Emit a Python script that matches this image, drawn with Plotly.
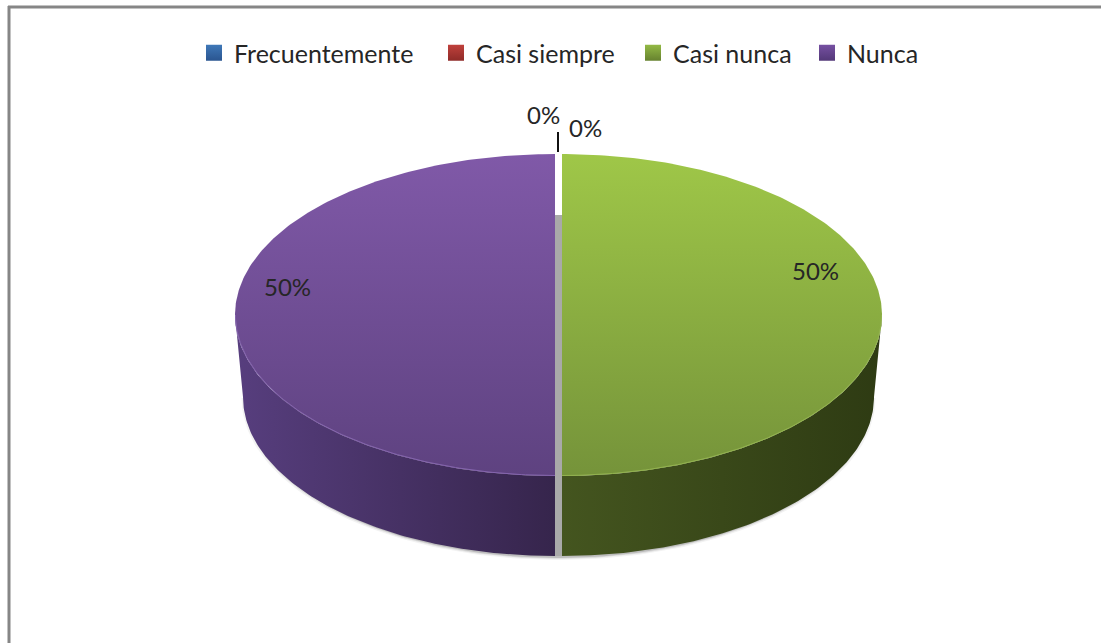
import numpy as np
import plotly.graph_objects as go

categories = ["Frecuentemente", "Casi siempre", "Casi nunca", "Nunca"]
values = [0, 0, 50, 50]
draw_order = [2, 3, 0, 1]  # clockwise from 12 o'clock
top_colors = {"Casi nunca": ("#9fc748", "#75933a"), "Nunca": ("#8059a8", "#5e4280")}
rim_colors = {"Casi nunca": "#93b34f", "Nunca": "#8565ae"}
side_colors = {"Casi nunca": ("#44551f", "#2e3b13"), "Nunca": ("#573e7e", "#36254c")}
legend_colors = ["#3f78b8", "#c0413c", "#93b945", "#7650a2"]
legend_dark = ["#2a5590", "#8f2b28", "#66822f", "#533878"]
legend_text_x = [234, 476, 673, 847]
labels_pos = {"Frecuentemente": (543, 114), "Casi siempre": (585, 127), "Casi nunca": (815, 270), "Nunca": (287, 286)}

W, H = 1101, 643
CX, CY, RX, RY = 558.5, 315, 320, 161
BCY, BRX, BRY = 397, 312, 159
EXPLODE = 3.5
FONT = "Lato"
TEXT = "#262626"
LEGEND_TEXT_OFFSET = 42

fig = go.Figure()
total = sum(values)

# soft shadow under the pie
for grow, alpha in [(5, 0.05), (3, 0.09), (1.5, 0.14)]:
    t = np.linspace(np.pi / 2, 3 * np.pi / 2, 120)
    fig.add_trace(go.Scatter(
        x=np.r_[CX + (BRX + grow) * np.sin(t), CX],
        y=np.r_[BCY + 1 + (BRY + grow * 0.6) * -np.cos(t), BCY],
        mode="lines", line=dict(width=0), fill="toself",
        fillcolor=f"rgba(0,0,0,{alpha})", hoverinfo="skip", showlegend=False))

start = 0.0
geom = []
for i in draw_order:
    frac = values[i] / total
    a0, a1 = start * 2 * np.pi, (start + frac) * 2 * np.pi
    start += frac
    if values[i] == 0:
        continue
    mid = (a0 + a1) / 2
    dx = EXPLODE * np.sign(np.sin(mid))
    geom.append((categories[i], a0, a1, dx))

# side walls
for name, a0, a1, dx in geom:
    lo, hi = max(a0, np.pi / 2), min(a1, 3 * np.pi / 2)
    t = np.linspace(lo, hi, 120)
    xs = np.r_[CX + dx + RX * np.sin(t), (CX + dx + BRX * np.sin(t))[::-1]]
    ys = np.r_[CY - RY * np.cos(t), (BCY - BRY * np.cos(t))[::-1]]
    c0, c1 = side_colors[name]
    fig.add_trace(go.Scatter(
        x=xs, y=ys, mode="lines", line=dict(width=0), fill="toself",
        fillgradient=dict(type="horizontal", colorscale=[[0, c0], [1, c1]]),
        hoverinfo="skip", showlegend=False))

# tops
for name, a0, a1, dx in geom:
    t = np.linspace(a0, a1, 240)
    xs = np.r_[CX + dx, CX + dx + RX * np.sin(t), CX + dx]
    ys = np.r_[CY, CY - RY * np.cos(t), CY]
    c0, c1 = top_colors[name]
    fig.add_trace(go.Scatter(
        x=xs, y=ys, mode="lines", line=dict(width=0), fill="toself",
        fillgradient=dict(type="vertical", colorscale=[[0, c1], [1, c0]]),
        name=name, hoverinfo="skip", showlegend=False))
    lo, hi = max(a0, np.pi / 2), min(a1, 3 * np.pi / 2)
    r = np.linspace(lo, hi, 120)
    fig.add_trace(go.Scatter(
        x=CX + dx + (RX - 0.5) * np.sin(r), y=CY - (RY - 0.5) * np.cos(r),
        mode="lines", line=dict(width=1, color=rim_colors[name]),
        hoverinfo="skip", showlegend=False))

# legend entries: one native legend per category so each can sit at its own place
legends = {}
for k, (name, col, dark, tx) in enumerate(zip(categories, legend_colors, legend_dark, legend_text_x)):
    key = "legend" if k == 0 else f"legend{k + 1}"
    fig.add_trace(go.Scatter(
        x=[None], y=[None], mode="markers", name=name, legend=key, showlegend=True,
        marker=dict(symbol="square", size=16, color=col,
                    gradient=dict(type="vertical", color=dark))))
    legends[key] = dict(orientation="h", x=(tx + 2 - LEGEND_TEXT_OFFSET) / W, xanchor="left",
                        y=1 - 53 / H, yanchor="middle",
                        font=dict(family=FONT, size=25, color=TEXT), bgcolor="rgba(0,0,0,0)",
                        itemclick=False, itemdoubleclick=False)

# percentage labels
for name, val in zip(categories, values):
    x, y = labels_pos[name]
    fig.add_annotation(x=x, y=y, text=f"{round(val / total * 100)}%", showarrow=False,
                       font=dict(family=FONT, size=24, color=TEXT))

shapes = [
    dict(type="rect", x0=555, x1=562, y0=154, y1=215, fillcolor="#ffffff", line_width=0, layer="above"),
    dict(type="rect", x0=555, x1=562, y0=215, y1=556, fillcolor="#a9a9a9", line_width=0, layer="above"),
    dict(type="line", x0=558, x1=558, y0=132, y1=152, line=dict(color="#111111", width=2)),
    dict(type="line", x0=9, x1=9, y0=6, y1=643, line=dict(color="#868686", width=3)),
    dict(type="line", x0=8, x1=1101, y0=7, y1=7, line=dict(color="#868686", width=3)),
]

fig.update_layout(
    width=W, height=H, margin=dict(l=0, r=0, t=0, b=0),
    paper_bgcolor="white", plot_bgcolor="white",
    xaxis=dict(visible=False, range=[0, W], fixedrange=True),
    yaxis=dict(visible=False, range=[H, 0], fixedrange=True),
    shapes=shapes,
    font=dict(family=FONT, size=24, color=TEXT),
    **legends,
)

fig.write_html("out.html", config={"displayModeBar": False},
               post_script="document.body.style.margin='0';")
